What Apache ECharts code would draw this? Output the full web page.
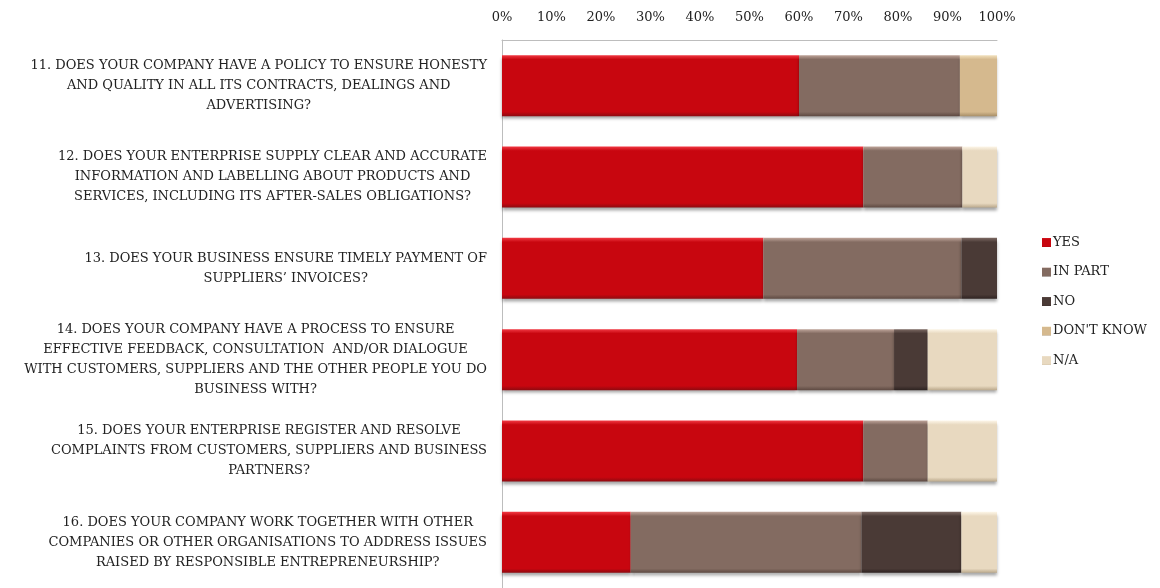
<!DOCTYPE html>
<html>
<head>
<meta charset="utf-8">
<script src="https://cdn.jsdelivr.net/npm/echarts@6/dist/echarts.min.js"></script>
<style>
  html, body { margin: 0; padding: 0; background: #fff; }
  #chart { width: 1160px; height: 588px; }
</style>
</head>
<body>
<div id="chart"></div>
<script>
// questions, one line per array entry (as broken in the original)
const questions = [
  ['11. DOES YOUR COMPANY HAVE A POLICY TO ENSURE HONESTY', 'AND QUALITY IN ALL ITS CONTRACTS, DEALINGS AND', 'ADVERTISING?'],
  ['12. DOES YOUR ENTERPRISE SUPPLY CLEAR AND ACCURATE', 'INFORMATION AND LABELLING ABOUT PRODUCTS AND', 'SERVICES, INCLUDING ITS AFTER-SALES OBLIGATIONS?'],
  ['13. DOES YOUR BUSINESS ENSURE TIMELY PAYMENT OF', 'SUPPLIERS\u2019 INVOICES?'],
  ['14. DOES YOUR COMPANY HAVE A PROCESS TO ENSURE', 'EFFECTIVE FEEDBACK, CONSULTATION  AND/OR DIALOGUE', 'WITH CUSTOMERS, SUPPLIERS AND THE OTHER PEOPLE YOU DO', 'BUSINESS WITH?'],
  ['15. DOES YOUR ENTERPRISE REGISTER AND RESOLVE', 'COMPLAINTS FROM CUSTOMERS, SUPPLIERS AND BUSINESS', 'PARTNERS?'],
  ['16. DOES YOUR COMPANY WORK TOGETHER WITH OTHER', 'COMPANIES OR OTHER ORGANISATIONS TO ADDRESS ISSUES', 'RAISED BY RESPONSIBLE ENTREPRENEURSHIP?']
];

const answers = ['YES', 'IN PART', 'NO', 'DON\'T KNOW', 'N/A'];

// percentages per question
const yes      = [60, 73, 52.8, 59.6, 73, 26];
const inPart   = [32.5, 20, 40, 19.6, 13, 46.6];
const no       = [0, 0, 7.2, 6.8, 0, 20.2];
const dontKnow = [7.5, 0, 0, 0, 0, 0];
const na       = [0, 7, 0, 14, 14, 7.2];

const xTicks = [0, 10, 20, 30, 40, 50, 60, 70, 80, 90, 100];

const FONT = 'DejaVu Serif';

// base / light / dark for the bevelled look
const palette = [
  ['#c8060f', '#f23a44', '#8e0a10'],
  ['#836b61', '#bfa59a', '#5e4a42'],
  ['#4a3a36', '#7d6a64', '#2e2321'],
  ['#d5b98e', '#f3e2bf', '#a88f68'],
  ['#e8d9c0', '#fdf6e8', '#bba98c']
];

function bevel(c) {
  return new echarts.graphic.LinearGradient(0, 0, 0, 1, [
    { offset: 0, color: c[1] },
    { offset: 0.07, color: c[0] },
    { offset: 0.93, color: c[0] },
    { offset: 1, color: c[2] }
  ]);
}

const seriesData = [yes, inPart, no, dontKnow, na];

const chart = echarts.init(document.getElementById('chart'));
chart.setOption({
  animation: false,
  textStyle: { fontFamily: FONT },
  grid: { left: 502, right: 163, top: 40, bottom: -3, containLabel: false },
  legend: {
    orient: 'vertical',
    left: 1037,
    top: 231,
    itemWidth: 9,
    itemHeight: 9,
    itemGap: 16.5,
    icon: 'rect',
    textStyle: { fontFamily: FONT, fontSize: 13, color: '#222', padding: [0, 0, 0, -3] },
    data: answers
  },
  xAxis: {
    type: 'value',
    position: 'top',
    min: 0,
    max: 100,
    interval: 10,
    axisLine: { show: true, lineStyle: { color: '#bdbdbd', width: 1 } },
    axisTick: { show: false },
    splitLine: { show: false },
    axisLabel: {
      margin: 16,
      fontFamily: FONT,
      fontSize: 13,
      color: '#222',
      customValues: xTicks,
      formatter: v => v + '%'
    }
  },
  yAxis: {
    type: 'category',
    inverse: true,
    data: questions.map(q => q.join('\n')),
    axisLine: { show: true, lineStyle: { color: '#bdbdbd', width: 1 } },
    axisTick: { show: false },
    axisLabel: {
      margin: 15,
      interval: 0,
      formatter: v => v.split('\n').map(l => '{c|' + l + '}').join('\n'),
      rich: {
        c: { align: 'center', fontFamily: FONT, fontSize: 13, color: '#222', lineHeight: 20 }
      }
    }
  },
  series: seriesData.map((d, i) => ({
    name: answers[i],
    type: 'bar',
    stack: 'total',
    barWidth: 61,
    data: d,
    itemStyle: {
      color: bevel(palette[i]),
      shadowColor: 'rgba(0,0,0,0.35)',
      shadowBlur: 3,
      shadowOffsetY: 3
    }
  }))
});
</script>
</body>
</html>
